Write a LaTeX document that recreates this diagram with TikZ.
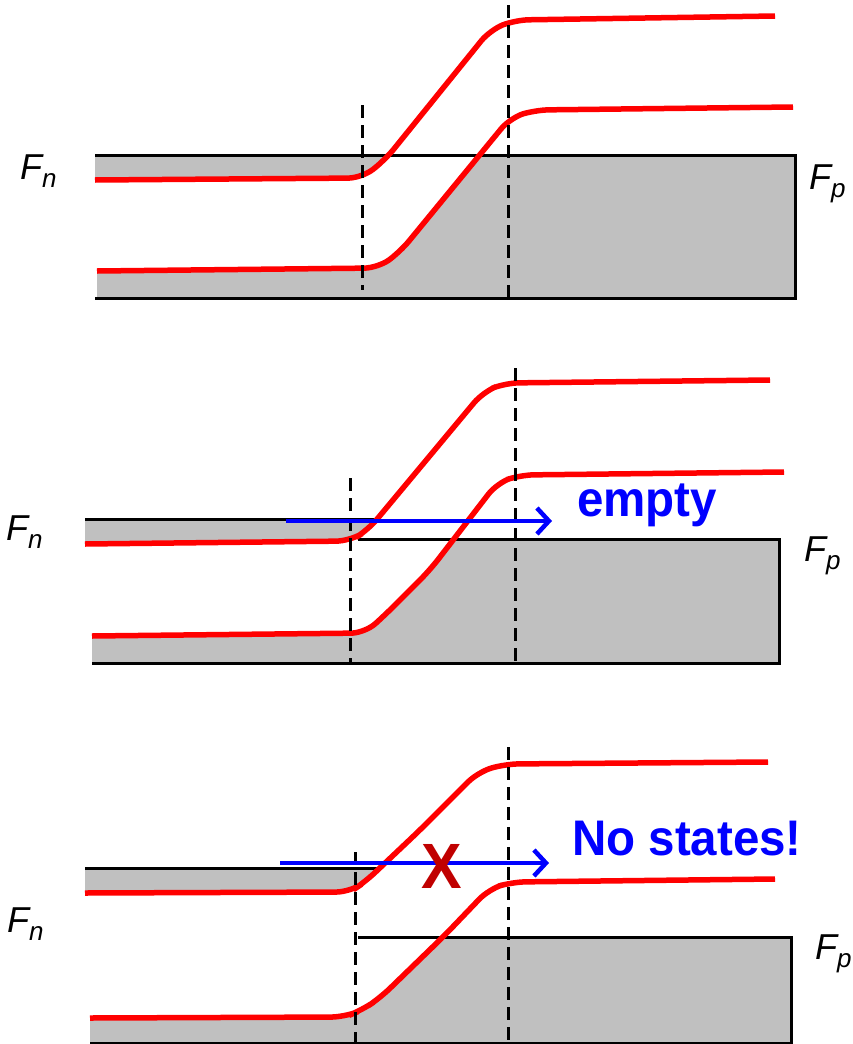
\documentclass[tikz,border=0pt]{standalone}
\usepackage{fontspec}
\setmainfont{Liberation Sans}
\newfontfamily\narrowsans[FakeStretch=0.95]{Liberation Sans}
\usetikzlibrary{arrows.meta}
\definecolor{bandgray}{RGB}{192,192,192}
\definecolor{crossred}{RGB}{192,0,0}

\newcommand\upperA{(95,180) [rounded corners=14pt] -- (362,178) -- (385,160) -- (490,30) -- (515,20) -- (775,16) [sharp corners]}
\newcommand\lowerA{(97,271) [rounded corners=14pt] -- (378,268) -- (400,252) -- (510,118) -- (535,110) -- (793,107) [sharp corners]}
\newcommand\upperB{(85,544) [rounded corners=14pt] -- (350,541) -- (368,530) -- (483,392) -- (505,383) -- (770,380) [sharp corners]}
\newcommand\lowerB{(92,636) [rounded corners=14pt] -- (365,633) -- (385,615) -- (430,570) -- (497,483) -- (520,475) -- (784,472) [sharp corners]}
\newcommand\upperC{(85,893) [rounded corners=14pt] -- (350,892) -- (365,882) -- (420,830) -- (478,772) -- (505,764) -- (768,762) [sharp corners]}
\newcommand\lowerC{(90,1018) [rounded corners=14pt] -- (345,1017) -- (362,1010) -- (380,998) -- (445,935) -- (489,889) -- (512,882) -- (775,879) [sharp corners]}

\begin{document}
\begin{tikzpicture}[
    x=1pt, y=-1pt,
    band/.style={fill=bandgray},
    edge/.style={draw=black, line width=3pt},
    level/.style={draw=red, line width=5.5pt},
    junction/.style={draw=black, line width=3pt, dash pattern=on 13pt off 7pt},
    flow/.style={-{Straight Barb[length=12pt,width=26pt]}, draw=blue, line width=4.5pt},
    fermi/.style={font=\fontsize{36}{40}\selectfont\itshape, inner sep=0pt, anchor=base west},
    remark/.style={font=\narrowsans\bfseries\fontsize{50}{54}\selectfont, text=blue, inner sep=0pt, anchor=base west},
    cross/.style={font=\narrowsans\bfseries\fontsize{64}{68}\selectfont, text=crossred, inner sep=0pt, anchor=base},
  ]
    \useasboundingbox (0,0) rectangle (852,1044);

    % panel 1
    \begin{scope}
      \clip (95,155) rectangle (795,298);
      \fill[band] \upperA -- (775,-100) -- (95,-100) -- cycle;
      \fill[band] \lowerA -- (800,107) -- (800,400) -- (97,400) -- cycle;
    \end{scope}
    \draw[edge] (95,155) -- (795,155) -- (795,298) -- (95,298);
    \draw[level] \upperA;
    \draw[level] \lowerA;
    \draw[junction] (362,105) -- (362,290);
    \draw[junction] (508,5) -- (508,298);
    \node[fermi] (fnA) at (20,179) {F\raisebox{-8pt}{\fontsize{26}{26}\selectfont n}};
    \node[fermi] (fpA) at (809,189) {F\raisebox{-8pt}{\fontsize{26}{26}\selectfont p}};

    % panel 2
    \begin{scope}
      \clip (85,519) rectangle (779,663);
      \fill[band] \upperB -- (770,300) -- (85,300) -- cycle;
    \end{scope}
    \begin{scope}
      \clip (85,539) rectangle (779,663);
      \fill[band] \lowerB -- (790,472) -- (790,700) -- (92,700) -- cycle;
    \end{scope}
    \draw[edge] (85,519) -- (378,519);
    \draw[edge] (358,539) -- (779,539) -- (779,663) -- (92,663);
    \draw[level] \upperB;
    \draw[level] \lowerB;
    \draw[junction] (350,478) -- (350,663);
    \draw[junction] (515,368) -- (515,663);
    \coordinate (flowAstart) at (286,521);
    \coordinate (flowAend) at (552,521);
    \draw[flow] (flowAstart) -- (flowAend);
    \node[remark] (empty) at (577,516) {empty};
    \node[fermi] (fnB) at (6,540) {F\raisebox{-8pt}{\fontsize{26}{26}\selectfont n}};
    \node[fermi] (fpB) at (804,561) {F\raisebox{-8pt}{\fontsize{26}{26}\selectfont p}};

    % panel 3
    \begin{scope}
      \clip (85,868) rectangle (791,1044);
      \fill[band] \upperC -- (768,700) -- (85,700) -- cycle;
    \end{scope}
    \begin{scope}
      \clip (85,937) rectangle (791,1044);
      \fill[band] \lowerC -- (800,879) -- (800,1100) -- (90,1100) -- cycle;
    \end{scope}
    \draw[edge] (85,868) -- (378,868);
    \draw[edge] (358,937) -- (791,937) -- (791,1043) -- (90,1043);
    \draw[level] \upperC;
    \draw[level] \lowerC;
    \draw[junction] (355,852) -- (355,1044);
    \draw[junction] (508,747) -- (508,1044);
    \coordinate (flowBstart) at (280,863);
    \coordinate (flowBend) at (549,863);
    \draw[flow] (flowBstart) -- (flowBend);
    \node[cross] (blocked) at (442,888) {X};
    \node[remark] (nostates) at (572,855) {No states!};
    \node[fermi] (fnC) at (7,932) {F\raisebox{-8pt}{\fontsize{26}{26}\selectfont n}};
    \node[fermi] (fpC) at (815,959) {F\raisebox{-8pt}{\fontsize{26}{26}\selectfont p}};
\end{tikzpicture}
\end{document}
